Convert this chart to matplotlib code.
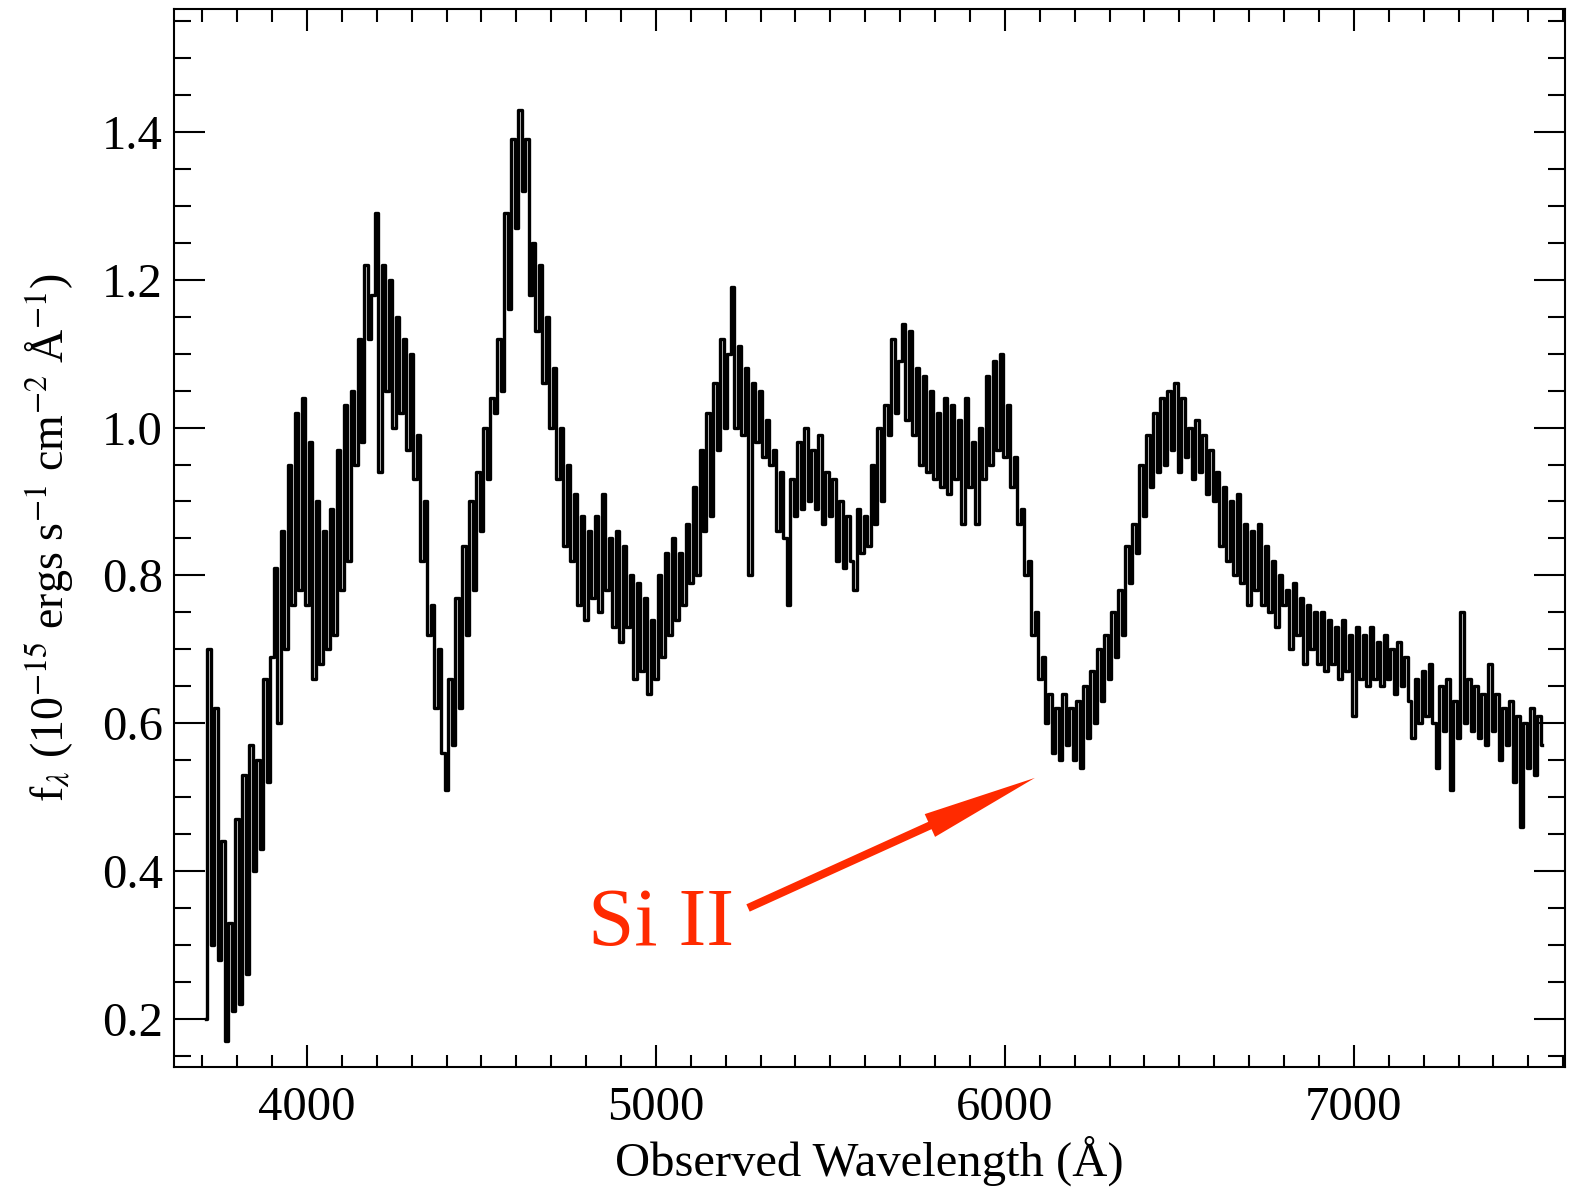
import numpy as np
import matplotlib.pyplot as plt
from matplotlib.patches import ArrowStyle

plt.rcParams['font.family'] = ['Liberation Serif', 'DejaVu Serif']
plt.rcParams['mathtext.fontset'] = 'stix'

# observed flux, 10 A bins starting at 3710 A
flux = [
    0.20, 0.70, 0.30, 0.62, 0.28, 0.44, 0.17, 0.33, 0.21, 0.47,
    0.22, 0.53, 0.26, 0.57, 0.40, 0.55, 0.43, 0.66, 0.52, 0.69,
    0.81, 0.60, 0.86, 0.70, 0.95, 0.76, 1.02, 0.78, 1.04, 0.76,
    0.98, 0.66, 0.90, 0.68, 0.86, 0.70, 0.89, 0.72, 0.97, 0.78,
    1.03, 0.82, 1.05, 0.95, 1.12, 0.98, 1.22, 1.12, 1.18, 1.29,
    0.94, 1.22, 1.05, 1.20, 1.00, 1.15, 1.02, 1.12, 0.97, 1.10,
    0.93, 0.99, 0.82, 0.90, 0.72, 0.76, 0.62, 0.70, 0.56, 0.51,
    0.66, 0.57, 0.77, 0.62, 0.84, 0.72, 0.90, 0.78, 0.94, 0.86,
    1.00, 0.93, 1.04, 1.02, 1.12, 1.05, 1.29, 1.16, 1.39, 1.27,
    1.43, 1.32, 1.39, 1.18, 1.25, 1.13, 1.22, 1.06, 1.15, 1.00,
    1.08, 0.93, 1.00, 0.84, 0.95, 0.82, 0.91, 0.76, 0.88, 0.74,
    0.86, 0.77, 0.88, 0.75, 0.91, 0.78, 0.85, 0.73, 0.86, 0.71,
    0.84, 0.73, 0.80, 0.66, 0.79, 0.67, 0.77, 0.64, 0.74, 0.66,
    0.80, 0.69, 0.83, 0.72, 0.85, 0.74, 0.83, 0.76, 0.87, 0.79,
    0.92, 0.80, 0.97, 0.86, 1.02, 0.88, 1.06, 0.97, 1.12, 1.00,
    1.10, 1.19, 1.00, 1.11, 0.99, 1.08, 0.80, 1.06, 0.98, 1.05,
    0.96, 1.01, 0.95, 0.97, 0.86, 0.94, 0.85, 0.76, 0.93, 0.88,
    0.98, 0.89, 1.00, 0.90, 0.97, 0.89, 0.99, 0.87, 0.94, 0.88,
    0.93, 0.82, 0.90, 0.81, 0.88, 0.82, 0.78, 0.89, 0.83, 0.88,
    0.84, 0.95, 0.87, 1.00, 0.90, 1.03, 0.99, 1.12, 1.02, 1.09,
    1.14, 1.01, 1.13, 0.99, 1.08, 0.95, 1.07, 0.94, 1.05, 0.93,
    1.02, 0.92, 1.04, 0.91, 1.03, 0.93, 1.01, 0.87, 1.04, 0.92,
    0.98, 0.87, 1.00, 0.93, 1.07, 0.95, 1.09, 0.97, 1.10, 0.96,
    1.03, 0.92, 0.96, 0.87, 0.89, 0.80, 0.82, 0.72, 0.75, 0.66,
    0.69, 0.60, 0.64, 0.56, 0.62, 0.55, 0.64, 0.57, 0.62, 0.55,
    0.63, 0.54, 0.65, 0.58, 0.67, 0.60, 0.70, 0.63, 0.72, 0.66,
    0.75, 0.69, 0.78, 0.72, 0.84, 0.79, 0.87, 0.83, 0.95, 0.88,
    0.99, 0.92, 1.02, 0.94, 1.04, 0.95, 1.05, 0.97, 1.06, 0.94,
    1.04, 0.96, 1.00, 0.93, 1.01, 0.94, 0.99, 0.91, 0.97, 0.90,
    0.94, 0.84, 0.92, 0.82, 0.90, 0.80, 0.91, 0.79, 0.87, 0.76,
    0.86, 0.78, 0.87, 0.76, 0.84, 0.75, 0.82, 0.73, 0.80, 0.76,
    0.78, 0.70, 0.79, 0.72, 0.77, 0.68, 0.76, 0.70, 0.75, 0.68,
    0.75, 0.67, 0.74, 0.68, 0.73, 0.66, 0.74, 0.67, 0.72, 0.61,
    0.73, 0.66, 0.72, 0.65, 0.73, 0.66, 0.71, 0.65, 0.72, 0.66,
    0.70, 0.64, 0.71, 0.65, 0.69, 0.63, 0.58, 0.66, 0.60, 0.67,
    0.61, 0.68, 0.60, 0.54, 0.65, 0.59, 0.66, 0.51, 0.63, 0.58,
    0.75, 0.60, 0.66, 0.59, 0.65, 0.58, 0.64, 0.57, 0.68, 0.59,
    0.64, 0.55, 0.62, 0.57, 0.63, 0.52, 0.61, 0.46, 0.60, 0.54,
    0.62, 0.53, 0.61, 0.57,
]
wave = 3710 + 10 * np.arange(len(flux))

xticks = [4000, 5000, 6000, 7000]
yticks = [0.2, 0.4, 0.6, 0.8, 1.0, 1.2, 1.4]

fig = plt.figure(figsize=(15.7, 11.93), dpi=100)
ax = fig.add_axes([0.1108, 0.1056, 0.886, 0.8869])

ax.plot(wave, flux, color='k', lw=2.4, drawstyle='steps-mid')

ax.set_xlim(3619, 7605)
ax.set_ylim(0.1348, 1.5664)
ax.set_xticks(xticks)
ax.set_xticklabels([str(t) for t in xticks])
ax.set_xticks(np.arange(3700, 7601, 100), minor=True)
ax.set_yticks(yticks)
ax.set_yticklabels(['%.1f' % t for t in yticks])
ax.set_yticks(np.arange(0.15, 1.56, 0.05), minor=True)

ax.tick_params(axis='both', which='both', direction='in', top=True, right=True,
               width=1.5, labelsize=35)
ax.tick_params(axis='x', which='major', length=16, pad=14)
ax.tick_params(axis='x', which='minor', length=9)
ax.tick_params(axis='y', which='major', length=22, pad=8)
ax.tick_params(axis='y', which='minor', length=12)
for s in ax.spines.values():
    s.set_linewidth(1.5)

ax.set_xlabel('Observed Wavelength (Å)', fontsize=35, labelpad=4)
ax.set_ylabel(r'f$_\lambda$ (10$^{-15}$ ergs s$^{-1}$ cm$^{-2}$ Å$^{-1}$)',
              fontsize=33, labelpad=18)

red = '#ff2a00'
ax.text(4805, 0.300, 'Si II', color=red, fontsize=60, ha='left', va='baseline')
ax.annotate('', xy=(6086, 0.526), xytext=(5264, 0.350),
            arrowprops=dict(arrowstyle=ArrowStyle('simple', head_length=83,
                                                  head_width=18, tail_width=5.8),
                            mutation_scale=1, fc=red, ec='none', lw=0,
                            shrinkA=0, shrinkB=0))

fig.savefig('out.png', dpi=100)
